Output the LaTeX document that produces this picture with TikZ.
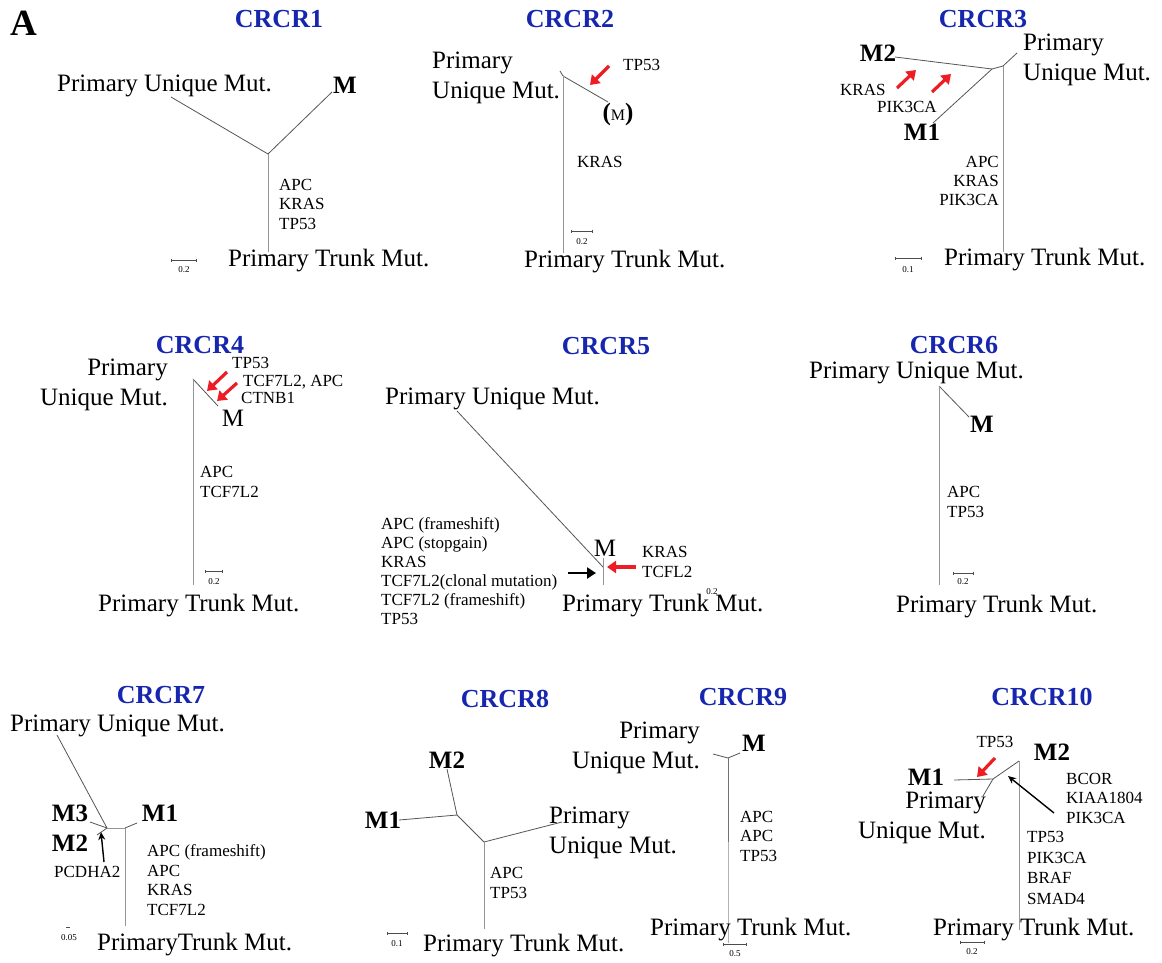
\documentclass[tikz,border=0pt]{standalone}
\usepackage{fontspec}
\setmainfont{Liberation Serif}
\usetikzlibrary{arrows.meta}
\definecolor{titleblue}{RGB}{22,38,175}
\definecolor{arrred}{RGB}{238,28,36}
\definecolor{branchc}{RGB}{85,85,85}
\definecolor{trunkc}{RGB}{150,150,150}
\tikzset{
  big/.style={font=\fontsize{25}{30}\selectfont, inner sep=0},
  bigb/.style={font=\bfseries\fontsize{25}{30}\selectfont, inner sep=0},
  ttl/.style={font=\bfseries\fontsize{26}{30}\selectfont, text=titleblue, inner sep=0},
  gene/.style={font=\fontsize{17}{19.5}\selectfont, inner sep=0},
  genelist/.style={font=\fontsize{17}{19.5}\selectfont, inner sep=0, align=left},
  tinyl/.style={font=\fontsize{9}{10}\selectfont, inner sep=0},
  br/.style={draw=branchc, line width=0.8pt},
  tr/.style={draw=trunkc, line width=0.9pt},
  redarr/.style={draw=arrred, line width=3.2pt, -{Triangle[length=9pt,width=12pt]}},
  blkarr/.style={draw=black, line width=1.4pt, -{Stealth[length=8pt,width=7pt]}},
  sbar/.style={draw=black!70, line width=0.6pt, {Bar[width=3pt]}-{Bar[width=3pt]}}
}
\begin{document}
\begin{tikzpicture}[x=1pt,y=-1pt]
\fill[white] (0,0) rectangle (1162,962);
\useasboundingbox (0,0) rectangle (1162,962);

\node[font=\bfseries\fontsize{37}{40}\selectfont, inner sep=0] (lblA) at (24,23) {A};

% ---------- CRCR1 ----------
\node[ttl] (t1) at (279,19) {CRCR1};
\node[big, anchor=west] (pu1) at (57,86) {Primary Unique Mut.};
\node[bigb] (m1) at (345,85) {M};
\coordinate (j1) at (268,154);
\coordinate (pue1) at (171,97);
\coordinate (me1) at (332,92);
\coordinate (te1) at (268,252);
\draw[br] (j1) -- (pue1);
\draw[br] (j1) -- (me1);
\draw[tr] (j1) -- (te1);
\node[genelist, anchor=west] (g1) at (279,204) {APC\\KRAS\\TP53};
\node[big, anchor=west] (pt1) at (228,261) {Primary Trunk Mut.};
\coordinate (sa1) at (171,260); \coordinate (sb1) at (197,260);
\draw[sbar] (sa1) -- (sb1);
\node[tinyl] (sl1) at (184,270) {0.2};

% ---------- CRCR2 ----------
\node[ttl] (t2) at (570,19) {CRCR2};
\node[big, anchor=west, align=left] (pu2) at (432,78) {Primary\\Unique Mut.};
\coordinate (j2) at (563,76);
\coordinate (s2) at (560,71);
\coordinate (me2) at (608,102);
\coordinate (te2) at (563,253);
\draw[br] (j2) -- (s2);
\draw[br] (j2) -- (me2);
\draw[tr] (j2) -- (te2);
\node[inner sep=0] (m2) at (618,114) {\bfseries\fontsize{25}{30}\selectfont(\normalfont\fontsize{16}{20}\selectfont M\bfseries\fontsize{25}{30}\selectfont)};
\node[gene, anchor=west] (g2a) at (623,65) {TP53};
\coordinate (ra2s) at (609,66); \coordinate (ra2e) at (590,85);
\draw[redarr] (ra2s) -- (ra2e);
\node[gene, anchor=west] (g2b) at (577,162) {KRAS};
\coordinate (sa2) at (571,231); \coordinate (sb2) at (593,231);
\draw[sbar] (sa2) -- (sb2);
\node[tinyl] (sl2) at (582,242) {0.2};
\node[big, anchor=west] (pt2) at (524,262) {Primary Trunk Mut.};

% ---------- CRCR3 ----------
\node[ttl] (t3) at (983,19) {CRCR3};
\node[bigb] (m23) at (878,53) {M2};
\node[bigb] (m13) at (922,132) {M1};
\node[big, anchor=west, align=left] (pu3) at (1023,60) {Primary\\Unique Mut.};
\coordinate (a3) at (895,57);
\coordinate (b3) at (933,123);
\coordinate (j3a) at (992,69);
\coordinate (j3b) at (1003,66);
\coordinate (p3) at (1017,53);
\coordinate (te3) at (1003,252);
\draw[br] (a3) -- (j3a);
\draw[br] (b3) -- (j3a);
\draw[br] (j3a) -- (j3b);
\draw[br] (j3b) -- (p3);
\draw[tr] (j3b) -- (te3);
\coordinate (ra3s) at (897,88); \coordinate (ra3e) at (916,70);
\coordinate (rb3s) at (932,92); \coordinate (rb3e) at (951,74);
\draw[redarr] (ra3s) -- (ra3e);
\draw[redarr] (rb3s) -- (rb3e);
\node[gene, anchor=west] (g3a) at (840,90) {KRAS};
\node[gene, anchor=west] (g3b) at (877,107) {PIK3CA};
\node[font=\fontsize{17}{19}\selectfont, inner sep=0, align=right, anchor=east] (g3c) at (999,181) {APC\\KRAS\\PIK3CA};
\coordinate (sa3) at (895,258); \coordinate (sb3) at (922,258);
\draw[sbar] (sa3) -- (sb3);
\node[tinyl] (sl3) at (908,270) {0.1};
\node[big, anchor=west] (pt3) at (944,260) {Primary Trunk Mut.};

% ---------- CRCR4 ----------
\node[ttl] (t4) at (200,345) {CRCR4};
\node[big, anchor=east, align=right] (pu4) at (168,385) {Primary\\Unique Mut.};
\coordinate (j4) at (193,379);
\coordinate (me4) at (218,406);
\coordinate (te4) at (193,585);
\draw[br] (j4) -- (me4);
\draw[tr] (j4) -- (te4);
\node[big] (m4) at (233,418) {M};
\coordinate (ra4s) at (227,372); \coordinate (ra4e) at (207,391);
\coordinate (rb4s) at (237,383); \coordinate (rb4e) at (217,401);
\draw[redarr] (ra4s) -- (ra4e);
\draw[redarr] (rb4s) -- (rb4e);
\node[gene, anchor=west] (g4a) at (232,363) {TP53};
\node[gene, anchor=west] (g4b) at (243,382) {TCF7L2, APC};
\node[gene, anchor=west] (g4c) at (241,398) {CTNB1};
\node[genelist, anchor=west] (g4d) at (200,482) {APC\\TCF7L2};
\coordinate (sa4) at (205,571); \coordinate (sb4) at (223,571);
\draw[sbar] (sa4) -- (sb4);
\node[tinyl] (sl4) at (214,582) {0.2};
\node[big, anchor=west] (pt4) at (98,606) {Primary Trunk Mut.};

% ---------- CRCR5 ----------
\node[ttl] (t5) at (606,346) {CRCR5};
\node[big, anchor=west] (pu5) at (385,399) {Primary Unique Mut.};
\coordinate (a5) at (457,411);
\coordinate (j5) at (603,567);
\coordinate (vt5) at (603,558);
\coordinate (vb5) at (603,585);
\draw[br] (a5) -- (j5);
\draw[tr] (vt5) -- (vb5);
\node[big] (m5) at (605,548) {M};
\coordinate (ba5s) at (568,573); \coordinate (ba5e) at (596,573);
\draw[draw=black, line width=2.6pt, -{Triangle[length=9pt,width=11pt]}] (ba5s) -- (ba5e);
\coordinate (ra5s) at (636,567); \coordinate (ra5e) at (607,567);
\draw[redarr] (ra5s) -- (ra5e);
\node[genelist, anchor=west] (g5a) at (642,562) {KRAS\\TCFL2};
\node[font=\fontsize{17}{19}\selectfont, inner sep=0, align=left, anchor=west] (g5b) at (381,571) {APC (frameshift)\\APC (stopgain)\\KRAS\\TCF7L2(clonal mutation)\\TCF7L2 (frameshift)\\TP53};
\node[big, anchor=west] (pt5) at (562,606) {Primary Trunk Mut.};
\node[tinyl] (sl5) at (712,592) {0.2};

% ---------- CRCR6 ----------
\node[ttl] (t6) at (954,345) {CRCR6};
\node[big, anchor=west] (pu6) at (809,373) {Primary Unique Mut.};
\coordinate (j6) at (939,386);
\coordinate (me6) at (969,417);
\coordinate (te6) at (939,585);
\draw[br] (j6) -- (me6);
\draw[tr] (j6) -- (te6);
\node[bigb] (m6) at (982,424) {M};
\node[genelist, anchor=west] (g6) at (947,502) {APC\\TP53};
\coordinate (sa6) at (953,573); \coordinate (sb6) at (974,573);
\draw[sbar] (sa6) -- (sb6);
\node[tinyl] (sl6) at (963,582) {0.2};
\node[big, anchor=west] (pt6) at (896,607) {Primary Trunk Mut.};

% ---------- CRCR7 ----------
\node[ttl] (t7) at (161,695) {CRCR7};
\node[big, anchor=west] (pu7) at (10,726) {Primary Unique Mut.};
\coordinate (u7) at (57,735);
\coordinate (j7a) at (107,828);
\coordinate (j7b) at (125,828);
\coordinate (m1e7) at (137,823);
\coordinate (m3e7) at (90,822);
\coordinate (m2e7) at (97,835);
\coordinate (te7) at (125,926);
\draw[br] (u7) -- (j7a);
\draw[tr] (j7a) -- (j7b);
\draw[br] (j7b) -- (m1e7);
\draw[br] (j7a) -- (m3e7);
\draw[br] (j7a) -- (m2e7);
\draw[tr] (j7b) -- (te7);
\node[bigb] (m37) at (70,813) {M3};
\node[bigb] (m27) at (70,843) {M2};
\node[bigb] (m17) at (160,813) {M1};
\coordinate (ba7s) at (104,862); \coordinate (ba7e) at (101,832);
\draw[blkarr] (ba7s) -- (ba7e);
\node[gene, anchor=west] (g7a) at (54,872) {PCDHA2};
\node[genelist, anchor=west] (g7b) at (147,880) {APC (frameshift)\\APC\\KRAS\\TCF7L2};
\coordinate (sa7) at (66,927); \coordinate (sb7) at (70,927);
\draw[draw=black!70, line width=0.6pt] (sa7) -- (sb7);
\node[tinyl] (sl7) at (69,938) {0.05};
\node[big, anchor=west] (pt7) at (97,945) {PrimaryTrunk Mut.};

% ---------- CRCR8 ----------
\node[ttl] (t8) at (505,699) {CRCR8};
\node[bigb] (m28) at (447,760) {M2};
\node[bigb] (m18) at (383,820) {M1};
\coordinate (j8a) at (457,815);
\coordinate (m2e8) at (447,769);
\coordinate (m1e8) at (399,820);
\coordinate (j8b) at (484,842);
\coordinate (pe8) at (562,822);
\coordinate (te8) at (484,929);
\draw[br] (j8a) -- (m2e8);
\draw[br] (j8a) -- (m1e8);
\draw[br] (j8a) -- (j8b);
\draw[br] (j8b) -- (pe8);
\draw[tr] (j8b) -- (te8);
\node[big, anchor=west, align=left] (pu8) at (549,833) {Primary\\Unique Mut.};
\node[genelist, anchor=west] (g8) at (490,883) {APC\\TP53};
\coordinate (sa8) at (387,933); \coordinate (sb8) at (408,933);
\draw[sbar] (sa8) -- (sb8);
\node[tinyl] (sl8) at (397,944) {0.1};
\node[big, anchor=west] (pt8) at (423,946) {Primary Trunk Mut.};

% ---------- CRCR9 ----------
\node[ttl] (t9) at (743,697) {CRCR9};
\node[big, anchor=east, align=right] (pu9) at (700,748) {Primary\\Unique Mut.};
\node[bigb] (m9) at (754,743) {M};
\coordinate (j9) at (728,758);
\coordinate (l9) at (713,754);
\coordinate (me9) at (740,753);
\coordinate (mid9) at (728,842);
\coordinate (te9) at (728,943);
\draw[br] (j9) -- (l9);
\draw[br] (j9) -- (me9);
\draw[draw=black!55, line width=0.9pt] (j9) -- (mid9);
\draw[draw=black!30, line width=0.9pt] (mid9) -- (te9);
\node[genelist, anchor=west] (g9) at (740,836) {APC\\APC\\TP53};
\node[big, anchor=west] (pt9) at (650,930) {Primary Trunk Mut.};
\coordinate (sa9) at (723,944); \coordinate (sb9) at (747,944);
\draw[sbar] (sa9) -- (sb9);
\node[tinyl] (sl9) at (735,954) {0.5};

% ---------- CRCR10 ----------
\node[ttl] (t10) at (1042,697) {CRCR10};
\node[gene] (g10a) at (995,742) {TP53};
\node[bigb] (m210) at (1052,752) {M2};
\node[bigb] (m110) at (926,777) {M1};
\coordinate (ra10s) at (995,758); \coordinate (ra10e) at (977,777);
\draw[redarr] (ra10s) -- (ra10e);
\coordinate (m1e10) at (954,780);
\coordinate (j10) at (993,779);
\coordinate (top10) at (1019,761);
\coordinate (pe10) at (983,796);
\coordinate (te10) at (1019,930);
\draw[br] (m1e10) -- (j10);
\draw[br] (j10) -- (top10);
\draw[br] (j10) -- (pe10);
\draw[tr] (top10) -- (te10);
\coordinate (ba10s) at (1054,813); \coordinate (ba10e) at (1008,776);
\draw[blkarr] (ba10s) -- (ba10e);
\node[genelist, anchor=west] (g10b) at (1066,798) {BCOR\\KIAA1804\\PIK3CA};
\node[font=\fontsize{17}{20.5}\selectfont, inner sep=0, align=left, anchor=west] (g10c) at (1027,868) {TP53\\PIK3CA\\BRAF\\SMAD4};
\node[big, anchor=east, align=right] (pu10) at (986,818) {Primary\\Unique Mut.};
\node[big, anchor=west] (pt10) at (933,930) {Primary Trunk Mut.};
\coordinate (sa10) at (960,942); \coordinate (sb10) at (985,942);
\draw[sbar] (sa10) -- (sb10);
\node[tinyl] (sl10) at (972,952) {0.2};
\end{tikzpicture}
\end{document}
